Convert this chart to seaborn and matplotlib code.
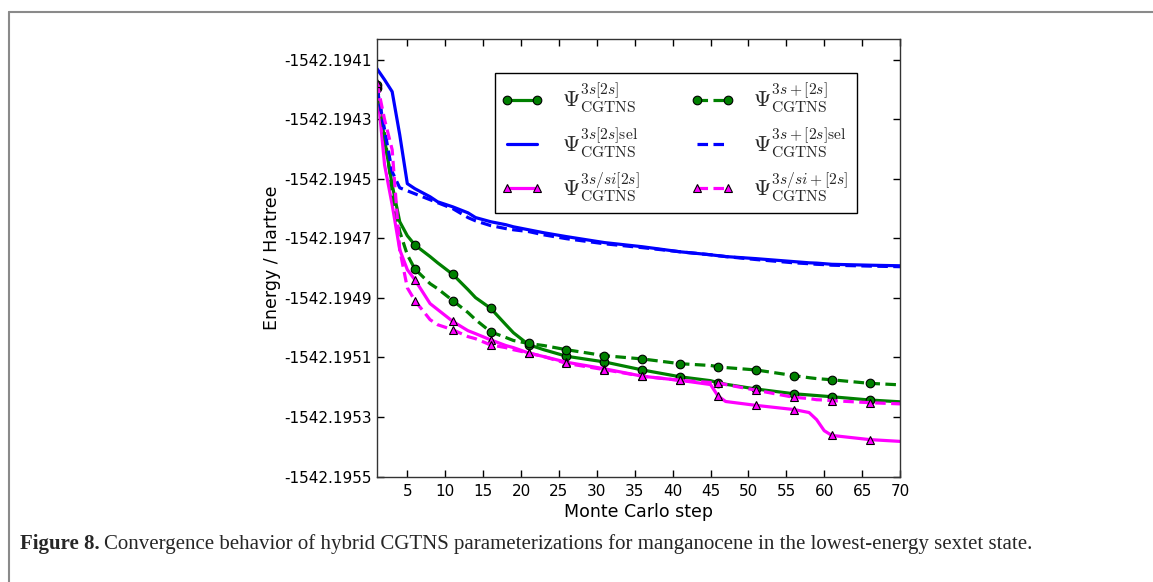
import numpy as np
import pandas as pd
import seaborn as sns
import matplotlib
matplotlib.use("Agg")
import matplotlib.pyplot as plt
from matplotlib.lines import Line2D
from matplotlib.legend_handler import HandlerLine2D

# ---------------- data ----------------
steps = [1, 2, 3, 4, 5, 6, 8, 9, 11, 13, 14, 16, 18, 19, 21, 23, 26, 31, 36,
         41, 45, 46, 47, 51, 56, 58, 59, 60, 61, 66, 70]

e_3s2s = [-1542.194194, -1542.194369, -1542.194520, -1542.194644, -1542.194691,
          -1542.194722, -1542.194761, -1542.194782, -1542.194821, -1542.194872,
          -1542.194899, -1542.194935, -1542.194990, -1542.195017, -1542.195057,
          -1542.195074, -1542.195096, -1542.195115, -1542.195142, -1542.195165,
          -1542.195178, -1542.195185, -1542.195190, -1542.195206, -1542.195222,
          -1542.195226, -1542.195228, -1542.195230, -1542.195232, -1542.195243,
          -1542.195249]

e_3s2s_sel = [-1542.194130, -1542.194167, -1542.194207, -1542.194352, -1542.194516,
              -1542.194533, -1542.194560, -1542.194577, -1542.194594, -1542.194614,
              -1542.194630, -1542.194644, -1542.194654, -1542.194661, -1542.194671,
              -1542.194681, -1542.194694, -1542.194714, -1542.194728, -1542.194745,
              -1542.194755, -1542.194758, -1542.194761, -1542.194768, -1542.194778,
              -1542.194782, -1542.194783, -1542.194785, -1542.194787, -1542.194790,
              -1542.194792]

e_3ssi2s = [-1542.194184, -1542.194453, -1542.194587, -1542.194738, -1542.194805,
            -1542.194839, -1542.194919, -1542.194939, -1542.194979, -1542.195010,
            -1542.195020, -1542.195041, -1542.195060, -1542.195067, -1542.195085,
            -1542.195097, -1542.195116, -1542.195138, -1542.195163, -1542.195177,
            -1542.195191, -1542.195230, -1542.195248, -1542.195261, -1542.195275,
            -1542.195285, -1542.195309, -1542.195346, -1542.195362, -1542.195376,
            -1542.195382]

e_3sp2s = [-1542.194184, -1542.194352, -1542.194536, -1542.194677, -1542.194755,
           -1542.194803, -1542.194852, -1542.194869, -1542.194909, -1542.194949,
           -1542.194973, -1542.195014, -1542.195033, -1542.195043, -1542.195053,
           -1542.195060, -1542.195074, -1542.195094, -1542.195105, -1542.195121,
           -1542.195127, -1542.195131, -1542.195134, -1542.195142, -1542.195161,
           -1542.195168, -1542.195171, -1542.195173, -1542.195175, -1542.195187,
           -1542.195192]

e_3sp2s_sel = [-1542.194194, -1542.194335, -1542.194476, -1542.194530, -1542.194540,
               -1542.194550, -1542.194570, -1542.194580, -1542.194600, -1542.194630,
               -1542.194641, -1542.194657, -1542.194667, -1542.194671, -1542.194677,
               -1542.194688, -1542.194701, -1542.194718, -1542.194731, -1542.194745,
               -1542.194755, -1542.194758, -1542.194761, -1542.194771, -1542.194782,
               -1542.194785, -1542.194787, -1542.194788, -1542.194790, -1542.194793,
               -1542.194795]

e_3ssip2s = [-1542.194177, -1542.194301, -1542.194402, -1542.194738, -1542.194866,
             -1542.194909, -1542.194973, -1542.194990, -1542.195007, -1542.195030,
             -1542.195037, -1542.195058, -1542.195067, -1542.195074, -1542.195085,
             -1542.195097, -1542.195120, -1542.195141, -1542.195163, -1542.195177,
             -1542.195184, -1542.195185, -1542.195191, -1542.195210, -1542.195234,
             -1542.195238, -1542.195242, -1542.195243, -1542.195245, -1542.195252,
             -1542.195256]

labels = [r'$\Psi^{3s[2s]}_{\rm CGTNS}$',
          r'$\Psi^{3s[2s]{\rm sel}}_{\rm CGTNS}$',
          r'$\Psi^{3s/si[2s]}_{\rm CGTNS}$',
          r'$\Psi^{3s+[2s]}_{\rm CGTNS}$',
          r'$\Psi^{3s+[2s]{\rm sel}}_{\rm CGTNS}$',
          r'$\Psi^{3s/si+[2s]}_{\rm CGTNS}$']

x_ticks = [5, 10, 15, 20, 25, 30, 35, 40, 45, 50, 55, 60, 65, 70]
y_ticks = [-1542.1955, -1542.1953, -1542.1951, -1542.1949, -1542.1947,
           -1542.1945, -1542.1943, -1542.1941]

caption_bold = "Figure 8."
caption_text = ("Convergence behavior of hybrid CGTNS parameterizations for "
                "manganocene in the lowest-energy sextet state.")

# ---------------- style ----------------
sns.set_theme(style="white")
plt.rcParams["font.family"] = ["DejaVu Sans"]
plt.rcParams["mathtext.fontset"] = "cm"

fig = plt.figure(figsize=(11.53, 5.82), dpi=100)
ax = fig.add_axes([377 / 1153, 1 - 476.5 / 582, (900 - 377) / 1153, (476.5 - 39) / 582])

series = [
    (e_3s2s, "#008000", "-", "o"),
    (e_3s2s_sel, "#0000ff", "-", None),
    (e_3ssi2s, "#ff00ff", "-", "^"),
    (e_3sp2s, "#008000", "--", "o"),
    (e_3sp2s_sel, "#0000ff", "--", None),
    (e_3ssip2s, "#ff00ff", "--", "^"),
]

mark_idx = [i for i, s in enumerate(steps) if (s - 1) % 5 == 0]

for (vals, col, ls, mk), lab in zip(series, labels):
    df = pd.DataFrame({"step": steps, "E": vals})
    kw = dict(color=col, linewidth=2.3, label=lab)
    if ls == "--":
        kw["dashes"] = (3.3, 1.7)
    if mk is not None:
        kw.update(marker=mk, markevery=mark_idx, markersize=6.3 if mk == "^" else 6.2,
                  markerfacecolor=col, markeredgecolor="black", markeredgewidth=0.8)
    sns.lineplot(data=df, x="step", y="E", ax=ax, **kw)

ax.set_xlim(1, 70)
ax.set_ylim(-1542.1955, -1542.19403)
ax.set_xticks(x_ticks)
ax.set_yticks(y_ticks)
ax.set_yticklabels([f"{v:.4f}" for v in y_ticks])
ax.set_xticklabels([str(v) for v in x_ticks])
ax.tick_params(axis="both", direction="in", length=5, width=1, colors="black",
               labelsize=11, top=True, right=True, bottom=True, left=True, pad=4)
ax.tick_params(axis="x", pad=5.5)
for sp in ax.spines.values():
    sp.set_color("#333333")
    sp.set_linewidth(1.0)

ax.set_xlabel("Monte Carlo step", fontsize=12.5, labelpad=3, color="black")
ax.set_ylabel("Energy / Hartree", fontsize=12.5, labelpad=2, color="black")

handles, labs = ax.get_legend_handles_labels()
hmap = {h: HandlerLine2D(marker_pad=0.12) for h in handles}
leg = ax.legend(handles, labs, ncol=2, loc="upper left",
                bbox_to_anchor=(495 / 1153, 1 - 73 / 582), bbox_transform=fig.transFigure,
                fontsize=16, frameon=True, fancybox=False, framealpha=1,
                edgecolor="black", numpoints=2, handlelength=1.6, handletextpad=1.0,
                columnspacing=2.5, labelspacing=0.49, borderpad=0.4,
                borderaxespad=0, handler_map=hmap)
leg.get_frame().set_linewidth(1.0)

# page frame
fig.add_artist(Line2D([9 / 1153, 9 / 1153], [0, 1 - 12 / 582], transform=fig.transFigure,
                      color="#8a8a8a", linewidth=1.5))
fig.add_artist(Line2D([9 / 1153, 1], [1 - 12 / 582, 1 - 12 / 582], transform=fig.transFigure,
                      color="#8a8a8a", linewidth=1.5))

# caption
t1 = fig.text(20 / 1153, 1 - 544 / 582, caption_bold, fontsize=15, fontweight="bold",
              family=["Liberation Serif"], va="center", ha="left")
fig.canvas.draw()
bb = t1.get_window_extent()
fig.text((bb.x1 + 4) / 1153, 1 - 544 / 582, caption_text, fontsize=15,
         family=["Liberation Serif"], va="center", ha="left")

fig.savefig("out.png", dpi=100)
